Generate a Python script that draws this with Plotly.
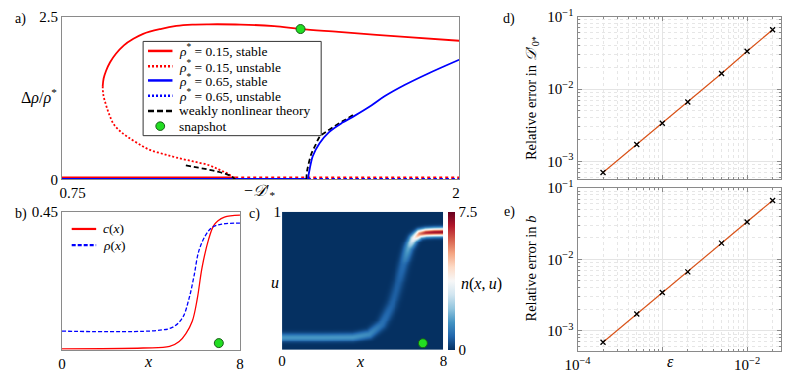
import numpy as np
import plotly.graph_objects as go

W, H = 785, 375
FONT = "Liberation Serif, Times New Roman, DejaVu Serif, serif"

# ---------------- Panel a data ----------------
red_stable_x = [0.848, 0.851, 0.859, 0.872, 0.891, 0.917, 0.948, 0.980, 1.036, 1.088, 1.140, 1.194, 1.298, 1.407, 1.493, 1.617, 1.832, 2.01]
red_stable_y = [1.433, 1.55, 1.67, 1.80, 1.93, 2.06, 2.16, 2.237, 2.31, 2.358, 2.378, 2.383, 2.379, 2.354, 2.31, 2.266, 2.189, 2.130]
red_unstable_x = [0.848, 0.850, 0.859, 0.870, 0.884, 0.905, 0.928, 0.964, 1.002, 1.047, 1.088, 1.140, 1.194, 1.228, 1.259, 1.280]
red_unstable_y = [1.433, 1.30, 1.140, 0.99, 0.848, 0.74, 0.658, 0.55, 0.453, 0.39, 0.336, 0.28, 0.219, 0.15, 0.08, 0.0]
red_zero_stable_x = [0.715, 1.280]
red_zero_unstable_x = [1.280, 2.01]
blue_stable_x = [1.517, 1.520, 1.523, 1.533, 1.555, 1.586, 1.630, 1.666, 1.725, 1.768, 1.832, 1.906, 2.01]
blue_stable_y = [0.0, 0.09, 0.165, 0.361, 0.556, 0.727, 0.873, 0.969, 1.14, 1.28, 1.45, 1.62, 1.838]
blue_zero_stable_x = [0.715, 1.517]
blue_zero_unstable_x = [1.517, 2.01]
wnl_red_x = [1.119, 1.160, 1.194, 1.223, 1.249, 1.267, 1.280]
wnl_red_y = [0.215, 0.18, 0.15, 0.12, 0.085, 0.05, 0.0]
wnl_blue_x = [1.512, 1.514, 1.518, 1.528, 1.542, 1.555, 1.575, 1.598, 1.632, 1.666]
wnl_blue_y = [0.0, 0.12, 0.214, 0.39, 0.53, 0.653, 0.73, 0.80, 0.90, 0.994]
snap_a_x = [1.493]
snap_a_y = [2.31]

# ---------------- Panel b data ----------------
c_x = [0, 3.65, 4.84, 5.27, 5.57, 5.86, 6.08, 6.30, 6.59, 6.81, 7.0, 7.3, 8.0]
c_vals = [0.003, 0.006, 0.011, 0.027, 0.053, 0.094, 0.166, 0.270, 0.36, 0.404, 0.42, 0.433, 0.439]
rho_x = [0, 4.25, 4.98, 5.42, 5.71, 5.93, 6.15, 6.45, 6.74, 7.18, 8.0]
rho_vals = [0.061, 0.063, 0.074, 0.105, 0.167, 0.239, 0.322, 0.373, 0.399, 0.41, 0.413]
snap_b_x = [7.05]
snap_b_y = [0.022]

# ---------------- Panel c data (band) ----------------
band_x = [0.0, 2.0, 3.5, 4.3, 4.9, 5.4, 5.75, 6.0, 6.25, 6.5, 6.8, 7.1, 7.5, 8.0]
band_u = [0.094, 0.094, 0.096, 0.117, 0.186, 0.324, 0.485, 0.62, 0.74, 0.81, 0.845, 0.853, 0.856, 0.857]
band_amp = [1.55, 1.55, 1.55, 1.35, 0.95, 0.7, 0.65, 0.85, 1.8, 3.6, 5.7, 6.6, 6.9, 7.0]
band_sigma = [3.0, 3.0, 3.0, 3.2, 3.6, 3.9, 3.9, 3.7, 3.4, 3.1, 2.9, 2.8, 2.8, 2.8]
snap_c_x = [6.98]
snap_c_u = [0.048]

# ---------------- Panels d, e data ----------------
eps = [2e-4, 5e-4, 1e-3, 2e-3, 5e-3, 1e-2, 2e-2]
err_D = [7.0e-4, 1.71e-3, 3.36e-3, 6.6e-3, 1.64e-2, 3.33e-2, 6.6e-2]
err_b = [6.9e-4, 1.72e-3, 3.44e-3, 6.7e-3, 1.69e-2, 3.34e-2, 6.7e-2]


def px(x):
    return x / W


def py(y):
    return 1 - y / H


# build heatmap field from the band description
gx = np.linspace(0, 8, 166)
gu = np.linspace(0, 1, 146)
sx, su = 165 / 8.0, 145.0
XX, UU = np.meshgrid(gx * sx, gu * su)
bx = np.array(band_x) * sx
bu = np.array(band_u) * su
ba = np.array(band_amp)
bs = np.array(band_sigma)
best_d = np.full(XX.shape, np.inf)
best_a = np.zeros(XX.shape)
best_s = np.ones(XX.shape)
for i in range(len(bx) - 1):
    ax0, ay0, ax1, ay1 = bx[i], bu[i], bx[i + 1], bu[i + 1]
    dx, dy = ax1 - ax0, ay1 - ay0
    t = ((XX - ax0) * dx + (UU - ay0) * dy) / (dx * dx + dy * dy)
    t = np.clip(t, 0, 1)
    d = np.hypot(XX - (ax0 + t * dx), UU - (ay0 + t * dy))
    a = ba[i] + t * (ba[i + 1] - ba[i])
    s = bs[i] + t * (bs[i + 1] - bs[i])
    m = d < best_d
    best_d[m] = d[m]
    best_a[m] = a[m]
    best_s[m] = s[m]
field = best_a * np.exp(-best_d ** 2 / (2 * best_s ** 2))

RED = "#ff0000"
BLUE = "#0000ff"
GREEN = "#22dd22"

fig = go.Figure()

# ---- panel a ----
ax = dict(xaxis="x", yaxis="y")
fig.add_trace(go.Scatter(x=red_zero_stable_x, y=[0] * len(red_zero_stable_x), mode="lines",
                         line=dict(color=RED, width=6), showlegend=False, **ax))
fig.add_trace(go.Scatter(x=red_zero_unstable_x, y=[0] * len(red_zero_unstable_x), mode="lines",
                         line=dict(color=RED, width=6, dash="3px,3px"), showlegend=False, **ax))
fig.add_trace(go.Scatter(x=blue_zero_stable_x, y=[0] * len(blue_zero_stable_x), mode="lines",
                         line=dict(color=BLUE, width=3), showlegend=False, **ax))
fig.add_trace(go.Scatter(x=blue_zero_unstable_x, y=[0] * len(blue_zero_unstable_x), mode="lines",
                         line=dict(color=BLUE, width=3, dash="3px,3px"), showlegend=False, **ax))
fig.add_trace(go.Scatter(x=red_unstable_x, y=red_unstable_y, mode="lines", line_shape="spline",
                         line=dict(color=RED, width=1.8, dash="2px,2px"), showlegend=False, **ax))
fig.add_trace(go.Scatter(x=red_stable_x, y=red_stable_y, mode="lines", line_shape="spline",
                         line=dict(color=RED, width=1.8), showlegend=False, **ax))
fig.add_trace(go.Scatter(x=wnl_red_x, y=wnl_red_y, mode="lines", line_shape="spline",
                         line=dict(color="black", width=1.8, dash="5px,3px"), showlegend=False, **ax))
fig.add_trace(go.Scatter(x=wnl_blue_x, y=wnl_blue_y, mode="lines", line_shape="spline",
                         line=dict(color="black", width=1.8, dash="5px,3px"), showlegend=False, **ax))
fig.add_trace(go.Scatter(x=blue_stable_x, y=blue_stable_y, mode="lines", line_shape="spline",
                         line=dict(color=BLUE, width=1.8), showlegend=False, **ax))
fig.add_trace(go.Scatter(x=snap_a_x, y=snap_a_y, mode="markers",
                         marker=dict(color=GREEN, size=9, line=dict(color="#1a5c1a", width=1)),
                         showlegend=False, cliponaxis=False, **ax))

# ---- panel b ----
bxax = dict(xaxis="x2", yaxis="y2")
fig.add_trace(go.Scatter(x=c_x, y=c_vals, mode="lines", line_shape="spline",
                         line=dict(color=RED, width=1.3), showlegend=False, **bxax))
fig.add_trace(go.Scatter(x=rho_x, y=rho_vals, mode="lines", line_shape="spline",
                         line=dict(color=BLUE, width=1.3, dash="4px,2px"), showlegend=False, **bxax))
fig.add_trace(go.Scatter(x=snap_b_x, y=snap_b_y, mode="markers",
                         marker=dict(color=GREEN, size=9, line=dict(color="#1a5c1a", width=1)),
                         showlegend=False, **bxax))

# ---- panel c ----
fig.add_trace(go.Heatmap(x=gx, y=gu, z=field, zmin=0, zmax=7.5, zsmooth="best",
                         colorscale=[[0.0, "rgb(5,48,97)"], [0.1, "rgb(33,102,172)"], [0.2, "rgb(67,147,195)"],
                                     [0.3, "rgb(146,197,222)"], [0.4, "rgb(209,229,240)"], [0.5, "rgb(247,247,247)"],
                                     [0.6, "rgb(253,219,199)"], [0.7, "rgb(244,165,130)"], [0.8, "rgb(214,96,77)"],
                                     [0.9, "rgb(178,24,43)"], [1.0, "rgb(103,0,31)"]],
                         xaxis="x3", yaxis="y3",
                         colorbar=dict(x=px(445), xanchor="left", y=(H - 357) / H, yanchor="bottom",
                                       len=145 / H, lenmode="fraction", thickness=7, thicknessmode="pixels",
                                       outlinewidth=0, tickvals=[0, 7.5], ticktext=["0", "7.5"], ticks="",
                                       tickfont=dict(size=15, family=FONT), xpad=0, ypad=0)))
fig.add_trace(go.Scatter(x=snap_c_x, y=snap_c_u, mode="markers",
                         marker=dict(color=GREEN, size=9, line=dict(color="#1a5c1a", width=1)),
                         showlegend=False, xaxis="x3", yaxis="y3"))

# ---- panels d, e ----
for xa, ya, err in (("x4", "y4", err_D), ("x5", "y5", err_b)):
    fig.add_trace(go.Scatter(x=eps, y=err, mode="lines+markers",
                             line=dict(color="#D95319", width=1.2),
                             marker=dict(symbol="x-thin", size=5, line=dict(color="black", width=1.3)),
                             showlegend=False, xaxis=xa, yaxis=ya))

FRAME = "#8a8a8a"
base = dict(showline=True, mirror=True, linecolor=FRAME, linewidth=1, showgrid=False, zeroline=False,
            ticks="", tickfont=dict(size=15, family=FONT, color="black"))

minor_vals = [m * 10.0 ** e for e in (-5, -4, -3, -2, -1) for m in range(2, 10)]
logax = dict(showline=True, mirror="allticks", linecolor=FRAME, linewidth=1, zeroline=False,
             type="log", showgrid=True, gridcolor="#e4e4e4", gridwidth=1,
             ticks="inside", ticklen=4, tickcolor=FRAME,
             tickfont=dict(size=15, family=FONT, color="black"),
             minor=dict(tickmode="array", tickvals=minor_vals, showgrid=True, gridcolor="#e6e6e6",
                        griddash="dot", ticks="inside", ticklen=2, tickcolor=FRAME))

layout = dict(
    width=W, height=H, margin=dict(l=0, r=0, t=0, b=0),
    paper_bgcolor="white", plot_bgcolor="white",
    font=dict(family=FONT, size=14, color="black"),
    showlegend=False,
    xaxis=dict(base, domain=[px(50), px(456)], range=[0.715, 2.01], tickvals=[0.75, 2], ticktext=["0.75", "2"],
               anchor="y"),
    yaxis=dict(base, domain=[py(178), py(7)], range=[0, 2.5], tickvals=[0, 2.5], ticktext=["0", "2.5"],
               anchor="x"),
    xaxis2=dict(base, domain=[px(50), px(232)], range=[0, 8], tickvals=[0, 8], anchor="y2"),
    yaxis2=dict(base, domain=[py(357), py(212)], range=[0, 0.45], tickvals=[0.45], ticktext=["0.45"],
                anchor="x2"),
    xaxis3=dict(base, domain=[px(275), px(440)], range=[0, 8], tickvals=[0, 8], anchor="y3", showline=False),
    yaxis3=dict(base, domain=[py(357), py(212)], range=[0, 1], tickvals=[1], anchor="x3", showline=False),
    xaxis4=dict(logax, domain=[px(577), 1.0], range=[-4, -1.6], tickvals=[1e-4, 1e-3, 1e-2],
                showticklabels=False, anchor="y4"),
    yaxis4=dict(logax, domain=[py(178), py(7)], range=[-3.25, -1], tickvals=[1e-3, 1e-2, 1e-1],
                ticktext=["10<sup>−3</sup>", "10<sup>−2</sup>", "10<sup>−1</sup>"], anchor="x4"),
    xaxis5=dict(logax, domain=[px(577), 1.0], range=[-4, -1.6], tickvals=[1e-4, 1e-3, 1e-2],
                ticktext=["10<sup>−4</sup>", "", "10<sup>−2</sup>"], anchor="y5"),
    yaxis5=dict(logax, domain=[py(358), py(187)], range=[-3.28, -1], tickvals=[1e-3, 1e-2, 1e-1],
                ticktext=["10<sup>−3</sup>", "10<sup>−2</sup>", "10<sup>−1</sup>"], anchor="x5"),
)
fig.update_layout(**layout)

ann = []


def text(x, y, s, size=15, angle=0, xanchor="center"):
    ann.append(dict(x=px(x), y=py(y), xref="paper", yref="paper", text=s, showarrow=False,
                    font=dict(size=size, family=FONT, color="black"), textangle=angle,
                    xanchor=xanchor, yanchor="middle"))


text(8, 9, "a)", 14)
text(8, 214, "b)", 14)
text(247, 214, "c)", 14)
text(507, 9, "d)", 14)
text(507, 212, "e)", 14)
text(27, 91, "Δ<i>ρ</i>/<i>ρ</i><sup>*</sup>", 16)
text(252, 191, "−<i>𝒟</i>′<sub>*</sub>", 16)
text(138, 369, "<i>x</i>", 16)
text(355, 369, "<i>x</i>", 16)
text(268, 286, "<i>u</i>", 16)
text(456, 288, "<i>n</i>(<i>x</i>,\u2009<i>u</i>)", 16, xanchor="left")
text(672, 369, "<i>ε</i>", 16)
text(530, 93, "Relative error in <i>𝒟</i>′<sub>0*</sub>", 14.5, angle=-90)
text(529, 272, "Relative error in <i>b</i>", 14.5, angle=-90)

# legend of panel a (drawn by hand)
shapes = [dict(type="rect", xref="paper", yref="paper", x0=px(133), x1=px(315), y0=py(132), y1=py(33),
               line=dict(color="#333333", width=1), fillcolor="white", layer="above")]
leg_items = [
    (43, RED, "solid", "<i>ρ</i><sup>*</sup> = 0.15, stable"),
    (59, RED, "dot", "<i>ρ</i><sup>*</sup> = 0.15, unstable"),
    (74, BLUE, "solid", "<i>ρ</i><sup>*</sup> = 0.65, stable"),
    (90, BLUE, "dot", "<i>ρ</i><sup>*</sup> = 0.65, unstable"),
    (106, "black", "dash", "weakly nonlinear theory"),
]
for yy, col, dsh, lab in leg_items:
    d = {"solid": "solid", "dot": "2px,2px", "dash": "6px,3px"}[dsh]
    shapes.append(dict(type="line", xref="paper", yref="paper", x0=px(138), x1=px(163), y0=py(yy), y1=py(yy),
                       line=dict(color=col, width=2.5, dash=d), layer="above"))
    ann.append(dict(x=px(168), y=py(yy), xref="paper", yref="paper", text=lab, showarrow=False,
                    font=dict(size=13.5, family=FONT, color="black"), xanchor="left", yanchor="middle"))
shapes.append(dict(type="circle", xref="paper", yref="paper", x0=px(146), x1=px(155), y0=py(126.5), y1=py(117.5),
                   line=dict(color="#1a5c1a", width=1), fillcolor=GREEN, layer="above"))
ann.append(dict(x=px(168), y=py(122), xref="paper", yref="paper", text="snapshot", showarrow=False,
                font=dict(size=13.5, family=FONT, color="black"), xanchor="left", yanchor="middle"))

# legend of panel b
for yy, col, d, lab in ((230, RED, "solid", "<i>c</i>(<i>x</i>)"), (247, BLUE, "4px,2px", "<i>ρ</i>(<i>x</i>)")):
    shapes.append(dict(type="line", xref="paper", yref="paper", x0=px(60), x1=px(85), y0=py(yy), y1=py(yy),
                       line=dict(color=col, width=2.2, dash=d), layer="above"))
    ann.append(dict(x=px(90), y=py(yy), xref="paper", yref="paper", text=lab, showarrow=False,
                    font=dict(size=13.5, family=FONT, color="black"), xanchor="left", yanchor="middle"))

fig.update_layout(annotations=ann, shapes=shapes)
fig.write_html("out.html", config={"displayModeBar": False},
               post_script="document.body.style.margin='0';document.body.style.overflow='hidden';")
